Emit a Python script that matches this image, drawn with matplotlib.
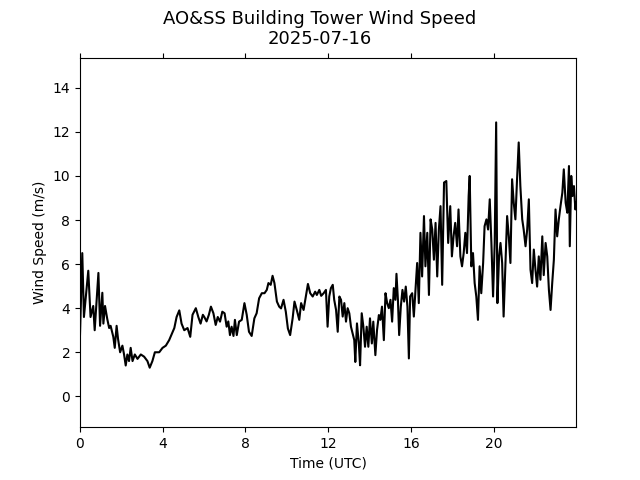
import matplotlib
matplotlib.use("Agg")
import matplotlib.pyplot as plt
import numpy as np

# hours since 00 UTC
hours = [
    0.00, 0.11, 0.19, 0.40, 0.51, 0.64, 0.71, 0.89, 0.97, 1.08, 1.13, 1.21,
    1.32, 1.41, 1.48, 1.61, 1.68, 1.77, 1.84, 1.94, 2.05, 2.13, 2.21, 2.29,
    2.37, 2.45, 2.54, 2.65, 2.78, 2.94, 3.10, 3.26, 3.37, 3.50, 3.62, 3.83,
    3.99, 4.15, 4.31, 4.47, 4.56, 4.67, 4.80, 4.91, 5.04, 5.20, 5.33, 5.44,
    5.60, 5.72, 5.83, 5.94,
    6.01, 6.12, 6.23, 6.33, 6.45, 6.56, 6.66, 6.77, 6.88, 6.99, 7.09, 7.17,
    7.25, 7.33, 7.42, 7.49, 7.58, 7.69, 7.82, 7.95, 8.06, 8.17, 8.30, 8.43,
    8.54, 8.66, 8.79, 8.92, 9.03, 9.11, 9.22, 9.31, 9.40, 9.52, 9.63, 9.72,
    9.84, 9.95, 10.05, 10.16, 10.28, 10.37, 10.48, 10.60, 10.69, 10.81, 10.92,
    11.02, 11.13, 11.25, 11.37, 11.45, 11.57, 11.66, 11.78, 11.89,
    11.97, 12.05, 12.13, 12.22, 12.29, 12.38, 12.46, 12.54, 12.62, 12.70,
    12.78, 12.86, 12.94, 13.02, 13.10, 13.18, 13.26, 13.31, 13.39, 13.48,
    13.54, 13.62, 13.70, 13.78, 13.86, 13.94, 14.02, 14.11, 14.18, 14.28,
    14.36, 14.45, 14.52, 14.60, 14.69, 14.77, 14.85, 14.93, 15.01, 15.09,
    15.17, 15.25, 15.30, 15.37, 15.43, 15.51, 15.59, 15.67, 15.75, 15.83,
    15.90, 15.96, 16.06, 16.14, 16.22, 16.30, 16.38, 16.46, 16.54, 16.63,
    16.70, 16.79, 16.87, 16.95, 17.03, 17.11, 17.19, 17.27, 17.35, 17.43,
    17.51, 17.60, 17.71, 17.80, 17.90,
    17.98, 18.06, 18.14, 18.23, 18.30, 18.39, 18.47, 18.55, 18.63, 18.71,
    18.79, 18.84, 18.92, 19.00, 19.08, 19.16, 19.24, 19.32, 19.40, 19.49,
    19.56, 19.65, 19.73, 19.81, 19.89, 19.97, 20.05, 20.12, 20.18, 20.26,
    20.33, 20.41, 20.48, 20.57, 20.65, 20.73, 20.81, 20.89, 20.97, 21.05,
    21.13, 21.21, 21.29, 21.38, 21.45, 21.54, 21.62, 21.70, 21.78, 21.86,
    21.94, 22.02, 22.10, 22.18, 22.26, 22.35, 22.42, 22.51, 22.59, 22.67,
    22.75, 22.83, 22.91, 22.99, 23.07, 23.15, 23.23, 23.32, 23.39, 23.48,
    23.56, 23.64, 23.68, 23.75, 23.81, 23.88, 23.95, 23.98,
]

# wind speed (m/s)
speed = [
    2.80, 6.50, 3.60, 5.70, 3.60, 4.10, 3.00, 5.60, 3.20, 4.70, 3.30, 4.10,
    3.50, 3.10, 3.20, 2.70, 2.20, 3.20, 2.60, 2.00, 2.30, 1.90, 1.40, 1.90,
    1.60, 2.20, 1.60, 1.90, 1.70, 1.90, 1.80, 1.60, 1.30, 1.60, 2.00, 2.00,
    2.20, 2.30, 2.55, 2.90, 3.10, 3.60, 3.90, 3.30, 3.00, 3.10, 2.70, 3.70,
    4.00, 3.60, 3.30, 3.70,
    3.60, 3.40, 3.70, 4.07, 3.77, 3.24, 3.60, 3.39, 3.84, 3.77, 3.16, 3.40,
    2.78, 3.16, 2.74, 3.47, 2.78, 3.39, 3.47, 4.23, 3.70, 2.93, 2.74, 3.54,
    3.77, 4.45, 4.68, 4.68, 4.83, 5.14, 5.06, 5.47, 5.14, 4.30, 4.07, 3.99,
    4.38, 3.84, 3.08, 2.78, 3.54, 4.30, 3.92, 3.47, 4.23, 3.92, 4.53,
    5.10, 4.68, 4.53, 4.75, 4.60, 4.83, 4.56, 4.68, 4.83,
    3.16, 4.53, 4.91, 5.06, 4.38, 3.92, 2.93, 4.53, 4.38, 3.62,
    4.23, 3.39, 4.00, 3.77, 3.16, 2.86, 2.55, 1.56, 3.31, 2.40,
    1.41, 3.77, 3.16, 2.25, 3.16, 2.25, 3.54, 2.40, 3.39, 1.87,
    3.01, 3.69, 3.47, 4.07, 2.55, 4.68, 4.23, 4.00, 4.38, 3.39,
    4.91, 4.38, 5.56, 4.38, 2.78, 4.07, 4.83, 4.30, 4.98, 4.07,
    1.72, 4.53, 4.68, 3.62, 4.83, 6.05, 4.23, 7.42, 5.44, 8.18,
    5.90, 7.42, 4.60, 8.03, 7.57, 6.20, 7.87, 5.44, 7.57, 8.63,
    5.06, 9.70, 9.77, 6.96, 8.63,
    6.35, 7.26, 7.87, 6.81, 8.48, 6.35, 5.90, 6.50, 7.42, 6.50,
    9.09, 10.00, 5.90, 6.50, 5.14, 4.53, 3.47, 5.90, 4.68, 6.05,
    7.72, 8.03, 7.57, 8.94, 6.96, 4.53, 6.96, 12.43, 4.23, 6.35,
    6.96, 6.05, 3.62, 6.05, 8.18, 7.26, 6.05, 9.85, 8.78, 8.03,
    9.85, 11.52, 9.54, 8.03, 7.57, 6.81, 7.57, 8.94, 5.75, 5.14,
    6.66, 5.75, 4.98, 6.35, 5.29, 7.26, 5.50, 6.96, 6.35, 4.83,
    3.92, 5.14, 6.20, 8.48, 7.26, 8.03, 8.63, 9.24, 10.30, 8.78,
    8.33, 10.45, 6.81, 10.00, 9.09, 9.54, 8.48, 8.78,
]

hour_ticks = [0, 4, 8, 12, 16, 20]

fig, ax = plt.subplots(figsize=(6.4, 4.8), dpi=100)
ax.plot(hours, speed, color="black", linewidth=1.5)

ax.set_xlim(0, 23.98)
ax.set_ylim(-1.4, 15.37)
ax.set_xticks(hour_ticks)
ax.set_yticks(np.arange(0, 15, 2))
ax.tick_params(top=True)

ax.set_xlabel("Time (UTC)")
ax.set_ylabel("Wind Speed (m/s)")
fig.suptitle("AO&SS Building Tower Wind Speed\n2025-07-16", fontsize=13)

fig.savefig("out.png", dpi=100)
